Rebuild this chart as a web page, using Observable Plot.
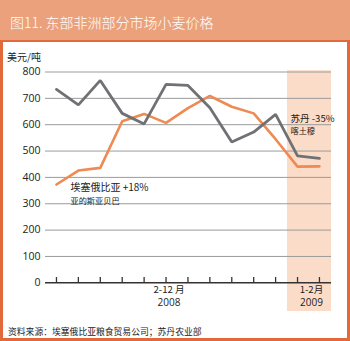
<!DOCTYPE html>
<html>
<head>
<meta charset="utf-8">
<script src="https://cdn.jsdelivr.net/npm/d3@7"></script>
<script src="https://cdn.jsdelivr.net/npm/@observablehq/plot@0.6"></script>
<style>
  body { margin: 0; background: #fff; }
  #wrap { position: relative; width: 350px; height: 341px; overflow: hidden; background: #fff;
    font-family: "Open Sans", "Noto Sans CJK SC", sans-serif; }
  #title { position: absolute; left: 0; top: 0; width: 350px; height: 40px; background: #EBA27C;
    color: #fff; font-family: "Noto Sans CJK SC", sans-serif; font-size: 14px; font-weight: 300;
    line-height: 44px; padding-left: 10px; box-sizing: border-box; white-space: nowrap; }
  #box { position: absolute; left: 0; top: 40px; width: 350px; height: 301px; box-sizing: border-box;
    border-style: solid; border-color: #E2693A; border-width: 2px 3px 3px 3px; }
  #ylabel { position: absolute; left: 7px; top: 49px; font-family: "Noto Sans CJK SC", sans-serif;
    font-size: 10px; color: #222; }
  #chart { position: absolute; left: 0; top: 42px; }
  #source { position: absolute; left: 8px; top: 325px; font-family: "Noto Sans CJK SC", sans-serif;
    font-size: 8.8px; color: #222; white-space: nowrap; }
</style>
</head>
<body>
<div id="wrap">
  <div id="box"></div>
  <div id="title">图11. 东部非洲部分市场小麦价格</div>
  <div id="ylabel">美元/吨</div>
  <div id="chart"></div>
  <div id="source">资料来源：埃塞俄比亚粮食贸易公司；苏丹农业部</div>
</div>
<script>
// Months Feb 2008 – Feb 2009
const months = ["2008-02","2008-03","2008-04","2008-05","2008-06","2008-07","2008-08",
                "2008-09","2008-10","2008-11","2008-12","2009-01","2009-02"];
// Sudan, Khartoum (gray) — USD/ton
const sudan = [734, 675, 768, 643, 603, 753, 749, 664, 534, 572, 639, 482, 472];
// Ethiopia, Addis Ababa (orange) — USD/ton
const ethiopia = [373, 426, 436, 613, 641, 607, 663, 709, 668, 643, 545, 441, 442];
const yTicks = [0, 100, 200, 300, 400, 500, 600, 700, 800];
const periodLabels = [
  {from: 0, to: 10, line1: "2-12 月", line2: "2008"},
  {from: 11, to: 12, line1: "1-2月", line2: "2009"}
];
const shadedPeriod = {from: 11, to: 12};
const ethLabel = ["埃塞俄比亚 +18%", "亚的斯亚贝巴"];
const sudLabel = ["苏丹 -35%", "喀土穆"];

const sData = sudan.map((v, i) => ({i, v, m: months[i]}));
const eData = ethiopia.map((v, i) => ({i, v, m: months[i]}));

const fontF = "'Open Sans', 'Noto Sans CJK SC', sans-serif";
const cjkF = "'Noto Sans CJK SC', sans-serif";

const chart = Plot.plot({
  width: 350,
  height: 278,
  marginLeft: 45,
  marginRight: 19,
  marginTop: 29.5,
  marginBottom: 37.7,
  style: {fontFamily: fontF, fontSize: "10px", color: "#222", background: "transparent", overflow: "visible"},
  x: {domain: [-0.5, 12.55], axis: null},
  y: {domain: [0, 800], axis: null},
  marks: [
    Plot.rect([shadedPeriod], {x1: d => d.from - 0.46, x2: 12.55, y1: -109, y2: 805, fill: "#FBDCC9"}),
    Plot.ruleY(yTicks.filter(d => d > 0), {stroke: "#9b9b9b", strokeWidth: 1}),
    Plot.axisY({ticks: yTicks, tickSize: 0, tickPadding: 5, label: null, fontSize: 10.5, fill: "#222"}),
    Plot.line(eData, {x: "i", y: "v", stroke: "#EE8A52", strokeWidth: 2.6, strokeLinejoin: "miter"}),
    Plot.line(sData, {x: "i", y: "v", stroke: "#707174", strokeWidth: 2.8, strokeLinejoin: "miter"}),
    Plot.ruleY([0], {stroke: "#333", strokeWidth: 1.4}),
    Plot.ruleX(months.map((m, i) => i), {y1: 0, y2: 20, stroke: "#333", strokeWidth: 1.3}),
    // period labels
    Plot.text(periodLabels, {x: d => (d.from + d.to) / 2, y: 0, text: "line1", dy: 7.5, dx: 3,
      fontFamily: cjkF, fontSize: 9.6, fill: "#222"}),
    Plot.text(periodLabels, {x: d => (d.from + d.to) / 2, y: 0, text: "line2", dy: 20, dx: 3,
      fontSize: 10, fill: "#222"}),
    // annotations
    Plot.text([eData[0]], {x: "i", y: "v", text: () => ethLabel[0], textAnchor: "start", dx: 14, dy: 3.5,
      fontFamily: cjkF, fontSize: 10, fill: "#222"}),
    Plot.text([eData[0]], {x: "i", y: "v", text: () => ethLabel[1], textAnchor: "start", dx: 14, dy: 16.5,
      fontFamily: cjkF, fontSize: 8.2, fill: "#222"}),
    Plot.text([sData[12]], {x: "i", y: "v", text: () => sudLabel[0], textAnchor: "start", dx: -29, dy: -39.5,
      fontFamily: cjkF, fontSize: 9.6, fill: "#222"}),
    Plot.text([sData[12]], {x: "i", y: "v", text: () => sudLabel[1], textAnchor: "start", dx: -29, dy: -27,
      fontFamily: cjkF, fontSize: 8.2, fill: "#222"})
  ]
});
document.getElementById("chart").appendChild(chart);
</script>
</body>
</html>
